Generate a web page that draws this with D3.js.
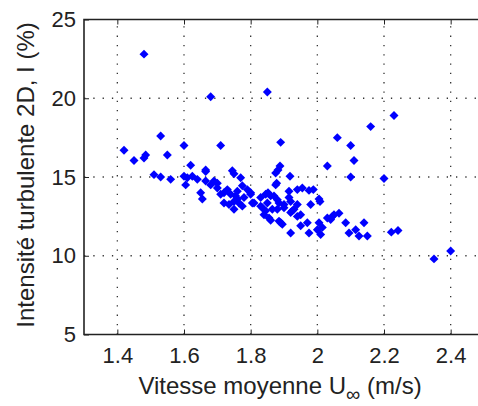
<!DOCTYPE html>
<html>

<head>
  <title>Intensite turbulente</title>
  <script src="https://cdn.jsdelivr.net/npm/d3@7"></script>
  <style type="text/css">
    body {
      margin: 0;
      background: white;
    }

    text {
      font-family: "Liberation Sans", Arial, sans-serif;
      fill: #222;
    }

    .grid line {
      stroke: #333;
      stroke-width: 1.3;
      stroke-dasharray: 1.3, 8;
    }

    .pt {
      fill: #0000ff;
    }
  </style>
</head>

<body>
  <div id="chartArea"></div>
  <script type="text/javascript">
    // mean velocity (m/s) and turbulent intensity (%)
    let speed = [
      1.48, 1.68, 1.85, 1.42, 1.53, 1.60, 1.71, 1.89, 2.06, 2.10, 2.16, 2.23,
      1.45, 1.48, 1.485, 1.55, 2.11, 2.03, 2.10, 2.20, 1.51, 1.53, 1.56, 1.60,
      1.62, 1.665, 1.61, 1.625, 1.64, 1.605, 1.65, 1.655, 1.665, 1.68, 1.665, 1.745,
      1.75, 1.69, 1.70, 1.71, 1.73, 1.74, 1.755, 1.75, 1.72, 1.735, 1.765, 1.775,
      1.77, 1.80, 1.805, 1.83, 1.845, 1.85, 1.845, 1.855, 1.835, 1.88, 1.875, 1.885,
      1.888, 1.882, 1.875, 1.918, 1.878, 1.915, 1.94, 1.955, 1.975, 1.988, 1.80, 1.852,
      1.86, 1.87, 1.83, 1.90, 1.88, 1.775, 1.75, 1.92, 1.915, 2.005, 2.008, 1.98,
      1.94, 1.92, 1.93, 2.05, 2.065, 2.03, 1.885, 1.90, 1.865, 1.925, 1.94, 1.95,
      1.89, 1.92, 1.97, 1.975, 1.95, 2.005, 2.00, 2.01, 2.015, 2.04, 2.045, 2.085,
      2.14, 2.095, 2.115, 2.125, 2.15, 2.222, 2.242, 2.35, 2.40, 1.84, 1.86, 1.895,
      1.81, 1.70, 1.72, 1.76, 1.78, 1.79, 1.76
    ];
    let intensity = [
      22.8, 20.1, 20.4, 16.7, 17.6, 17.0, 17.0, 17.2, 17.5, 17.0, 18.2, 18.9,
      16.05, 16.2, 16.4, 16.4, 16.05, 15.7, 15.0, 14.9, 15.15, 15.0, 14.85, 15.05,
      15.75, 15.45, 14.95, 15.05, 14.85, 14.5, 14.0, 13.6, 14.75, 14.5, 15.35, 15.4,
      15.2, 14.75, 14.6, 13.9, 14.2, 13.9, 13.8, 13.45, 13.35, 13.25, 13.35, 14.45,
      14.95, 13.9, 13.35, 13.7, 13.9, 13.35, 12.85, 12.4, 13.05, 13.55, 14.5, 12.2,
      15.7, 15.45, 15.25, 15.05, 14.6, 14.1, 14.2, 14.3, 14.15, 14.2, 14.0, 14.0,
      13.8, 13.8, 13.15, 13.25, 12.95, 13.15, 12.95, 12.75, 13.7, 13.6, 13.45, 13.25,
      13.25, 13.45, 12.95, 12.6, 12.7, 12.4, 13.35, 13.05, 12.95, 12.85, 12.5, 12.6,
      12.1, 11.45, 12.1, 11.45, 11.9, 12.1, 11.65, 11.35, 11.8, 12.3, 12.5, 12.1,
      12.1, 11.45, 11.65, 11.25, 11.25, 11.5, 11.6, 9.8, 10.3, 12.6, 12.25, 12.0,
      13.35, 14.3, 14.0, 14.1, 13.7, 14.2, 13.6
    ];
    let xTicks = [1.4, 1.6, 1.8, 2, 2.2, 2.4];
    let yTicks = [5, 10, 15, 20, 25];

    let dataset = speed.map((s, i) => {
      return { x: s, y: intensity[i] };
    });

    let width = 478;
    let height = 406;
    let plot = { left: 84, top: 19.5, right: 484, bottom: 334.5 };

    let xScale = d3.scaleLinear()
      .domain([1.3, 2.5])
      .range([plot.left, plot.right]);

    let yScale = d3.scaleLinear()
      .domain([5, 25])
      .range([plot.bottom, plot.top]);

    let svg = d3.select('#chartArea').append('svg')
      .attr('width', width)
      .attr('height', height);

    // dotted grid
    let grid = svg.append('g').attr('class', 'grid');
    grid.selectAll('.gx')
      .data(xTicks)
      .enter()
      .append('line')
      .attr('x1', d => xScale(d))
      .attr('x2', d => xScale(d))
      .attr('y1', plot.bottom)
      .attr('y2', plot.top);
    grid.selectAll('.gy')
      .data(yTicks.slice(1, -1))
      .enter()
      .append('line')
      .attr('x1', plot.left)
      .attr('x2', plot.right)
      .attr('y1', d => yScale(d))
      .attr('y2', d => yScale(d));

    // axes, ticks inside like matlab
    svg.append('g')
      .attr('transform', `translate(0, ${plot.bottom})`)
      .call(d3.axisBottom(xScale).tickValues(xTicks).tickSize(-5).tickPadding(13)
        .tickFormat(d3.format('')));
    svg.append('g')
      .attr('transform', `translate(0, ${plot.top})`)
      .call(d3.axisTop(xScale).tickValues(xTicks).tickSize(-5).tickFormat(''));
    svg.append('g')
      .attr('transform', `translate(${plot.left}, 0)`)
      .call(d3.axisLeft(yScale).tickValues(yTicks).tickSize(-5).tickPadding(8));

    svg.selectAll('.domain').remove();
    svg.selectAll('.tick line').attr('stroke', '#222').attr('stroke-width', 1);
    svg.selectAll('.tick text')
      .attr('font-size', 22)
      .attr('font-family', '"Liberation Sans", Arial, sans-serif')
      .attr('fill', '#222');

    // frame
    svg.append('path')
      .attr('d', `M${width},${plot.top}H${plot.left}V${plot.bottom}H${width}`)
      .attr('fill', 'none')
      .attr('stroke', '#222')
      .attr('stroke-width', 1.6);

    // points
    let diamond = d3.symbol(d3.symbolSquare, 40);
    svg.selectAll('.pt')
      .data(dataset)
      .enter()
      .append('path')
      .attr('class', 'pt')
      .attr('d', diamond)
      .attr('transform', d => `translate(${xScale(d.x)}, ${yScale(d.y)}) rotate(45)`);

    // labels
    let xl = svg.append('text')
      .attr('x', 280)
      .attr('y', 394)
      .attr('text-anchor', 'middle')
      .attr('font-size', 24);
    xl.append('tspan').text('Vitesse moyenne U');
    xl.append('tspan').attr('dy', 7).attr('font-size', 20).text('\u221e');
    xl.append('tspan').attr('dy', -7).text(' (m/s)');

    svg.append('text')
      .attr('transform', 'translate(34, 175) rotate(-90)')
      .attr('text-anchor', 'middle')
      .attr('font-size', 24)
      .text('Intensité turbulente 2D, I (%)');
  </script>
</body>

</html>
